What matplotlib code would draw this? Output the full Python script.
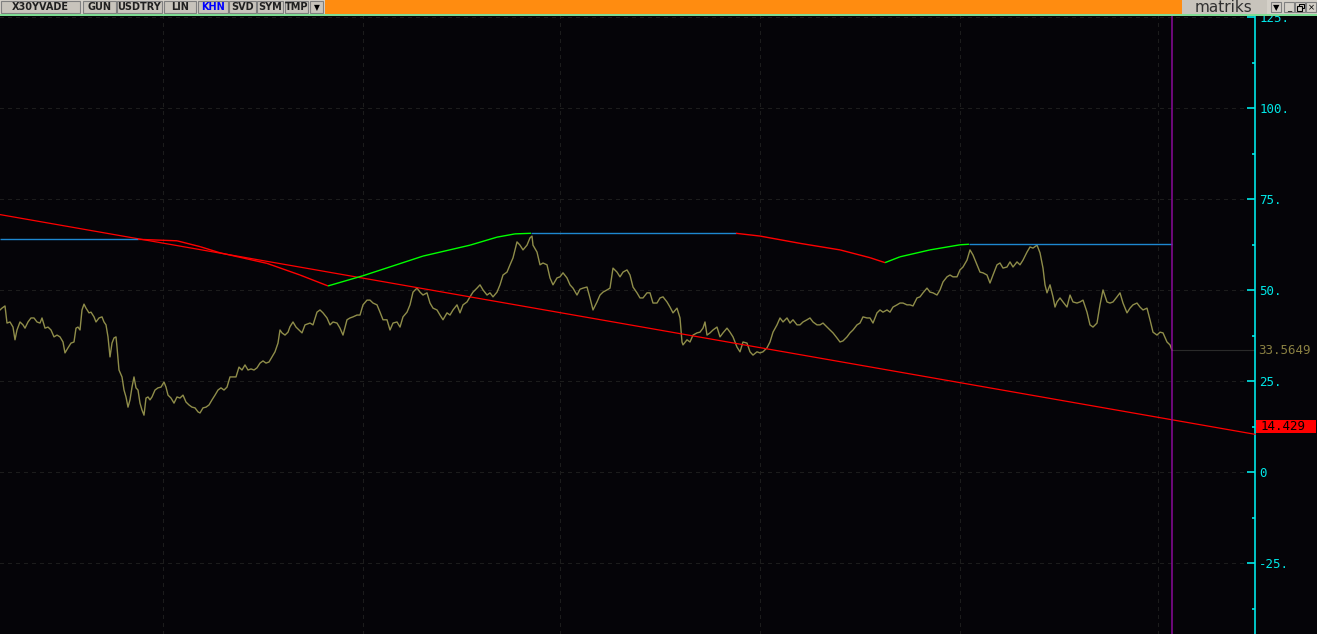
import matplotlib
matplotlib.use("Agg")
import matplotlib.pyplot as plt
from matplotlib.collections import LineCollection
from matplotlib.patches import Rectangle
from matplotlib.ticker import FixedLocator, FuncFormatter
import numpy as np

# ---------------- data ----------------
price_bar = [0, 2, 5, 7, 10, 13, 15, 17, 20, 23, 25, 28, 31, 34, 37, 40, 42, 45, 48, 51,
             54, 57, 60, 63, 65, 68, 71, 74, 76, 78, 80, 82, 84, 86, 89, 91, 94, 96, 99, 102,
             104, 106, 108, 110, 112, 114, 116, 117, 119, 122, 124, 126, 128, 130, 132, 134, 136, 138, 140, 142,
             144, 146, 148, 150, 152, 155, 158, 161, 164, 166, 168, 171, 174, 177, 180, 183, 186, 189, 192, 195,
             198, 200, 203, 206, 209, 212, 215, 218, 221, 224, 227, 230, 233, 236, 239, 242, 245, 248, 251, 254,
             257, 260, 263, 266, 269, 272, 275, 278, 280, 282, 285, 288, 290, 293, 296, 302, 305, 310, 313, 317,
             320, 323, 327, 330, 333, 337, 340, 343, 347, 350, 353, 357, 360, 363, 367, 370, 373, 377, 380, 383,
             387, 390, 393, 397, 400, 403, 407, 410, 413, 417, 420, 423, 427, 430, 433, 437, 440, 443, 447, 450,
             453, 457, 460, 463, 467, 470, 473, 477, 480, 483, 487, 490, 493, 497, 500, 503, 507, 510, 513, 517,
             520, 523, 527, 530, 532, 533, 537, 540, 543, 547, 550, 553, 557, 560, 563, 567, 570, 573, 577, 580,
             583, 587, 590, 593, 597, 600, 603, 607, 610, 613, 617, 620, 623, 627, 630, 633, 637, 640, 643, 647,
             650, 653, 657, 660, 663, 667, 670, 673, 677, 680, 682, 683, 687, 690, 693, 697, 700, 703, 705, 707,
             710, 713, 717, 720, 723, 727, 730, 733, 737, 740, 743, 747, 750, 753, 757, 760, 763, 767, 770, 773,
             777, 780, 783, 787, 790, 793, 797, 800, 803, 807, 810, 813, 817, 820, 823, 827, 830, 833, 837, 840,
             843, 847, 850, 853, 857, 860, 863, 867, 870, 873, 877, 880, 883, 887, 890, 893, 897, 900, 903, 907,
             910, 913, 917, 920, 923, 927, 930, 933, 937, 940, 943, 947, 950, 953, 957, 960, 963, 967, 970, 973,
             977, 980, 983, 987, 990, 993, 997, 1000, 1003, 1007, 1010, 1013, 1017, 1020, 1023, 1027, 1030, 1033, 1037, 1040,
             1043, 1045, 1047, 1050, 1053, 1055, 1057, 1060, 1063, 1067, 1070, 1073, 1077, 1080, 1083, 1087, 1090, 1093, 1097, 1100,
             1103, 1107, 1110, 1113, 1117, 1120, 1123, 1127, 1130, 1133, 1137, 1140, 1143, 1147, 1150, 1153, 1157, 1160, 1163, 1167,
             1170, 1172]
price_val = [44.6, 45.1, 45.7, 41.0, 41.3, 39.9, 36.4, 39.1, 41.3, 40.5, 39.6, 41.3, 42.4, 42.4, 41.3, 41.0, 42.4, 39.6, 39.9, 39.1,
             37.2, 37.7, 37.2, 35.8, 32.8, 34.2, 35.5, 35.8, 39.6, 39.9, 39.1, 44.6, 46.2, 45.1, 43.8, 44.0, 42.7, 41.3, 42.4, 42.7,
             41.3, 40.5, 37.2, 31.7, 35.5, 36.9, 37.2, 34.4, 28.1, 26.2, 22.6, 20.7, 17.9, 19.9, 23.4, 26.2, 23.2, 22.6, 19.0, 17.1,
             15.7, 20.4, 20.7, 19.9, 20.7, 22.6, 23.2, 23.4, 24.8, 23.4, 21.2, 20.4, 19.0, 20.7, 20.4, 21.2, 19.3, 18.5, 17.9, 17.7,
             16.6, 16.3, 17.7, 17.9, 18.5, 19.9, 21.2, 22.6, 23.2, 22.6, 23.4, 26.2, 26.2, 26.2, 28.9, 28.1, 29.5, 28.1, 28.4, 28.1,
             28.7, 30.0, 30.6, 30.0, 30.3, 31.7, 33.1, 35.5, 39.1, 38.3, 37.7, 38.5, 40.0, 41.3, 39.9, 38.3, 40.5, 41.0, 40.5, 44.0,
             44.6, 43.8, 42.4, 40.5, 41.3, 41.0, 39.6, 37.7, 41.9, 42.4, 42.7, 43.2, 43.2, 46.0, 47.3, 47.3, 46.5, 46.0, 44.0, 41.9,
             41.9, 39.1, 41.0, 41.3, 39.9, 42.7, 44.0, 46.0, 49.5, 50.6, 49.5, 48.7, 49.3, 46.5, 45.1, 44.6, 43.2, 41.9, 43.8, 43.2,
             44.6, 46.0, 43.8, 46.0, 46.8, 48.2, 49.5, 50.6, 51.5, 50.1, 48.7, 49.3, 48.2, 49.5, 51.5, 54.2, 55.0, 57.0, 58.9, 63.3,
             62.4, 61.1, 62.4, 64.4, 64.9, 62.4, 60.5, 57.0, 57.5, 57.0, 53.4, 51.5, 53.4, 53.7, 54.8, 53.4, 51.5, 50.6, 48.7, 50.3,
             50.6, 50.9, 47.9, 44.6, 46.8, 48.7, 49.5, 50.1, 50.6, 56.1, 55.0, 53.7, 55.0, 55.6, 54.2, 50.9, 49.3, 47.9, 47.9, 49.3,
             49.3, 46.5, 46.5, 47.9, 48.2, 46.8, 45.4, 43.8, 45.1, 42.4, 35.8, 35.0, 36.4, 35.8, 37.7, 38.3, 38.5, 39.6, 41.3, 37.7,
             38.3, 39.1, 39.9, 37.2, 38.3, 39.6, 38.5, 37.2, 34.4, 33.1, 35.8, 35.5, 33.1, 32.2, 33.1, 32.8, 33.1, 34.2, 35.8, 38.5,
             40.5, 42.4, 41.3, 42.4, 41.0, 41.9, 40.5, 40.5, 41.3, 41.9, 42.4, 41.3, 40.5, 40.5, 41.0, 39.9, 39.1, 38.3, 36.9, 35.8,
             36.1, 37.2, 38.3, 39.1, 40.5, 41.0, 42.7, 42.4, 42.4, 41.0, 43.8, 44.6, 44.0, 44.6, 44.0, 45.4, 46.0, 46.5, 46.5, 46.0,
             46.0, 45.7, 47.9, 48.2, 49.3, 50.6, 49.5, 49.3, 48.7, 50.1, 52.3, 53.7, 54.2, 53.7, 53.7, 55.6, 56.4, 58.3, 61.1, 59.7,
             57.0, 55.0, 54.8, 54.2, 52.0, 54.2, 57.0, 57.5, 56.1, 56.4, 57.8, 56.4, 57.8, 57.0, 58.3, 60.5, 61.9, 61.6, 62.4, 60.3,
             56.1, 51.5, 49.3, 51.5, 48.2, 45.4, 46.8, 47.9, 46.8, 45.4, 48.7, 46.8, 46.5, 46.8, 47.3, 44.0, 40.5, 39.9, 41.0, 46.0,
             50.1, 46.8, 46.5, 46.8, 48.2, 49.3, 46.5, 43.8, 45.1, 46.0, 46.5, 45.4, 44.6, 45.1, 41.9, 38.5, 37.7, 38.5, 38.3, 35.8,
             35.0, 33.5649]

# trailing indicator knots (bar, value)
ind_bar = [0, 138, 143, 177, 200, 220, 233, 267, 300, 328, 363, 423, 470, 497, 515, 531,
           736, 760, 800, 840, 870, 885, 900, 930, 960, 969, 1172]
ind_val = [64.0, 64.0, 63.95, 63.6, 62.0, 60.3, 59.5, 57.4, 54.2, 51.2, 54.0, 59.4, 62.4, 64.6, 65.5, 65.66,
           65.66, 64.9, 62.9, 61.1, 58.96, 57.6, 59.2, 61.1, 62.5, 62.65, 62.65]

# trend line (bar, value)
trend_bar = [0, 1255]
trend_val = [70.8, 10.44]
trend_last = 14.429
last_price = 33.5649
last_bar = 1172

y_ticks = [125, 100, 75, 50, 25, 0, -25]
y_minor = [112.5, 87.5, 62.5, 37.5, 12.5, -12.5, -37.5]
x_grid = [163, 363, 560, 760, 960, 1158]

toolbar_buttons = ["X30YVADE", "GUN", "USDTRY", "LIN", "KHN", "SVD", "SYM", "TMP"]

# ---------------- styling ----------------
W, H = 1317, 634
BG = "#050408"
CYAN = "#00e8e8"
OLIVE = "#8f8d4a"
GRID = "#1c1c1c"

fig = plt.figure(figsize=(W / 100, H / 100), dpi=100, facecolor=BG)

TB = 16  # toolbar height px
AX_R = 1255
ax = fig.add_axes([0, 0, AX_R / W, (H - TB) / H], facecolor=BG)
ax.set_xlim(0, AX_R)
ymax = (472.3 - TB) / 3.64
ymin = (472.3 - H) / 3.64
ax.set_ylim(ymin, ymax)

for s in ["top", "bottom", "left"]:
    ax.spines[s].set_visible(False)
ax.spines["right"].set_color(CYAN)
ax.spines["right"].set_linewidth(1.2)
ax.xaxis.set_visible(False)
ax.yaxis.tick_right()
ax.yaxis.set_major_locator(FixedLocator(y_ticks))
ax.yaxis.set_minor_locator(FixedLocator(y_minor))

def fmt(v, pos):
    return "0" if v == 0 else f"{int(v)}."

ax.yaxis.set_major_formatter(FuncFormatter(fmt))
ax.tick_params(axis="y", which="major", direction="in", length=6, width=1.2,
               color=CYAN, labelcolor=CYAN, labelsize=9, pad=3)
ax.tick_params(axis="y", which="minor", direction="in", length=2.5, width=1.2, color=CYAN)
for lab in ax.get_yticklabels():
    lab.set_family("DejaVu Sans Mono")

# grid
for v in y_ticks:
    ax.plot([0, AX_R - 8], [v, v], color=GRID, lw=0.8, dashes=(3, 4), antialiased=False, zorder=1)
for xg in x_grid:
    ax.axvline(xg, color=GRID, lw=0.8, dashes=(3, 4), antialiased=False, zorder=1)

# price line
ax.plot(price_bar, price_val, color=OLIVE, lw=1.0, zorder=3)

# trend line
ax.plot(trend_bar, trend_val, color="#ff0000", lw=0.9, zorder=4, clip_on=False)

# indicator colored by direction
segs, cols = [], []
for i in range(len(ind_bar) - 1):
    v0, v1 = ind_val[i], ind_val[i + 1]
    segs.append([(ind_bar[i], v0), (ind_bar[i + 1], v1)])
    if v1 > v0 + 1e-6:
        cols.append("#00ff00")
    elif v1 < v0 - 1e-6:
        cols.append("#ff0000")
    else:
        cols.append("#1e88d0")
ax.add_collection(LineCollection(segs, colors=cols, linewidths=1.0, zorder=4))

# last price line & purple cursor
ax.plot([last_bar, AX_R], [last_price, last_price], color="#2a2a2a", lw=0.8, zorder=2)
ax.axvline(last_bar, color="#8a0a9a", lw=1.1, zorder=5)

# right side labels
ax.text(AX_R + 3, last_price, f"{last_price:.4f}", color="#8a8042", fontsize=9,
        family="DejaVu Sans Mono", va="center", ha="left", clip_on=False)
lbl_ax = fig.add_axes([0, 0, 1, 1], facecolor="none")
lbl_ax.set_xlim(0, W)
lbl_ax.set_ylim(H, 0)
lbl_ax.axis("off")
y_last = 472.3 - trend_last * 3.64
lbl_ax.add_patch(Rectangle((1256, y_last), 60, 13, facecolor="#ff0000", edgecolor="none"))
lbl_ax.text(1261, y_last + 6.5, f"{trend_last:.3f}", color="#000000", fontsize=9,
            family="DejaVu Sans Mono", va="center", ha="left")

# ---------------- toolbar ----------------
tb = fig.add_axes([0, 1 - TB / H, 1, TB / H], facecolor="#d4d0c8")
tb.set_xlim(0, W)
tb.set_ylim(TB, 0)
tb.axis("off")
tb.add_patch(Rectangle((0, 0), W, TB, facecolor="#d4d0c8", edgecolor="none"))
btn_x = [(1, 80), (83, 116), (117, 162), (164, 196), (198, 228), (229, 256), (257, 283), (285, 308)]
for (x0, x1), name in zip(btn_x, toolbar_buttons):
    tb.add_patch(Rectangle((x0, 1), x1 - x0, 12, facecolor="#c8c4bc", edgecolor="#808080", lw=0.8))
    tb.text((x0 + x1) / 2, 7.5, name, ha="center", va="center", fontsize=7, fontweight="bold",
            color="#0000ff" if name == "KHN" else "#202020", family="DejaVu Sans")
tb.add_patch(Rectangle((310, 1), 13, 12, facecolor="#c8c4bc", edgecolor="#808080", lw=0.8))
tb.text(316.5, 7.5, "▼", ha="center", va="center", fontsize=5.5, color="#000000")
tb.add_patch(Rectangle((325, 0), 857, 14, facecolor="#ff8c10", edgecolor="none"))
tb.add_patch(Rectangle((1182, 0), 85, 14, facecolor="#c8c4bc", edgecolor="none"))
tb.text(1224, 7.5, "matriks", ha="center", va="center", fontsize=11, color="#303030", family="DejaVu Sans")
for bx, sym in zip([1271, 1284, 1295, 1306], ["▼", "_", "", "×"]):
    tb.add_patch(Rectangle((bx, 2), 10, 10, facecolor="#d4d0c8", edgecolor="#808080", lw=0.8))
    if sym:
        tb.text(bx + 5, 7.5, sym, ha="center", va="center", fontsize=6, color="#000000",
                family=["DejaVu Sans", "Noto Sans"])
# restore-window symbol drawn as two small overlapping frames
tb.add_patch(Rectangle((1299, 3.5), 5, 4.5, facecolor="none", edgecolor="#000000", lw=0.8))
tb.add_patch(Rectangle((1297, 6), 5, 4.5, facecolor="#d4d0c8", edgecolor="#000000", lw=0.8))
tb.plot([0, W], [15.2, 15.2], color="#6ee08a", lw=1.2)

fig.savefig("out.png", dpi=100, facecolor=BG)
